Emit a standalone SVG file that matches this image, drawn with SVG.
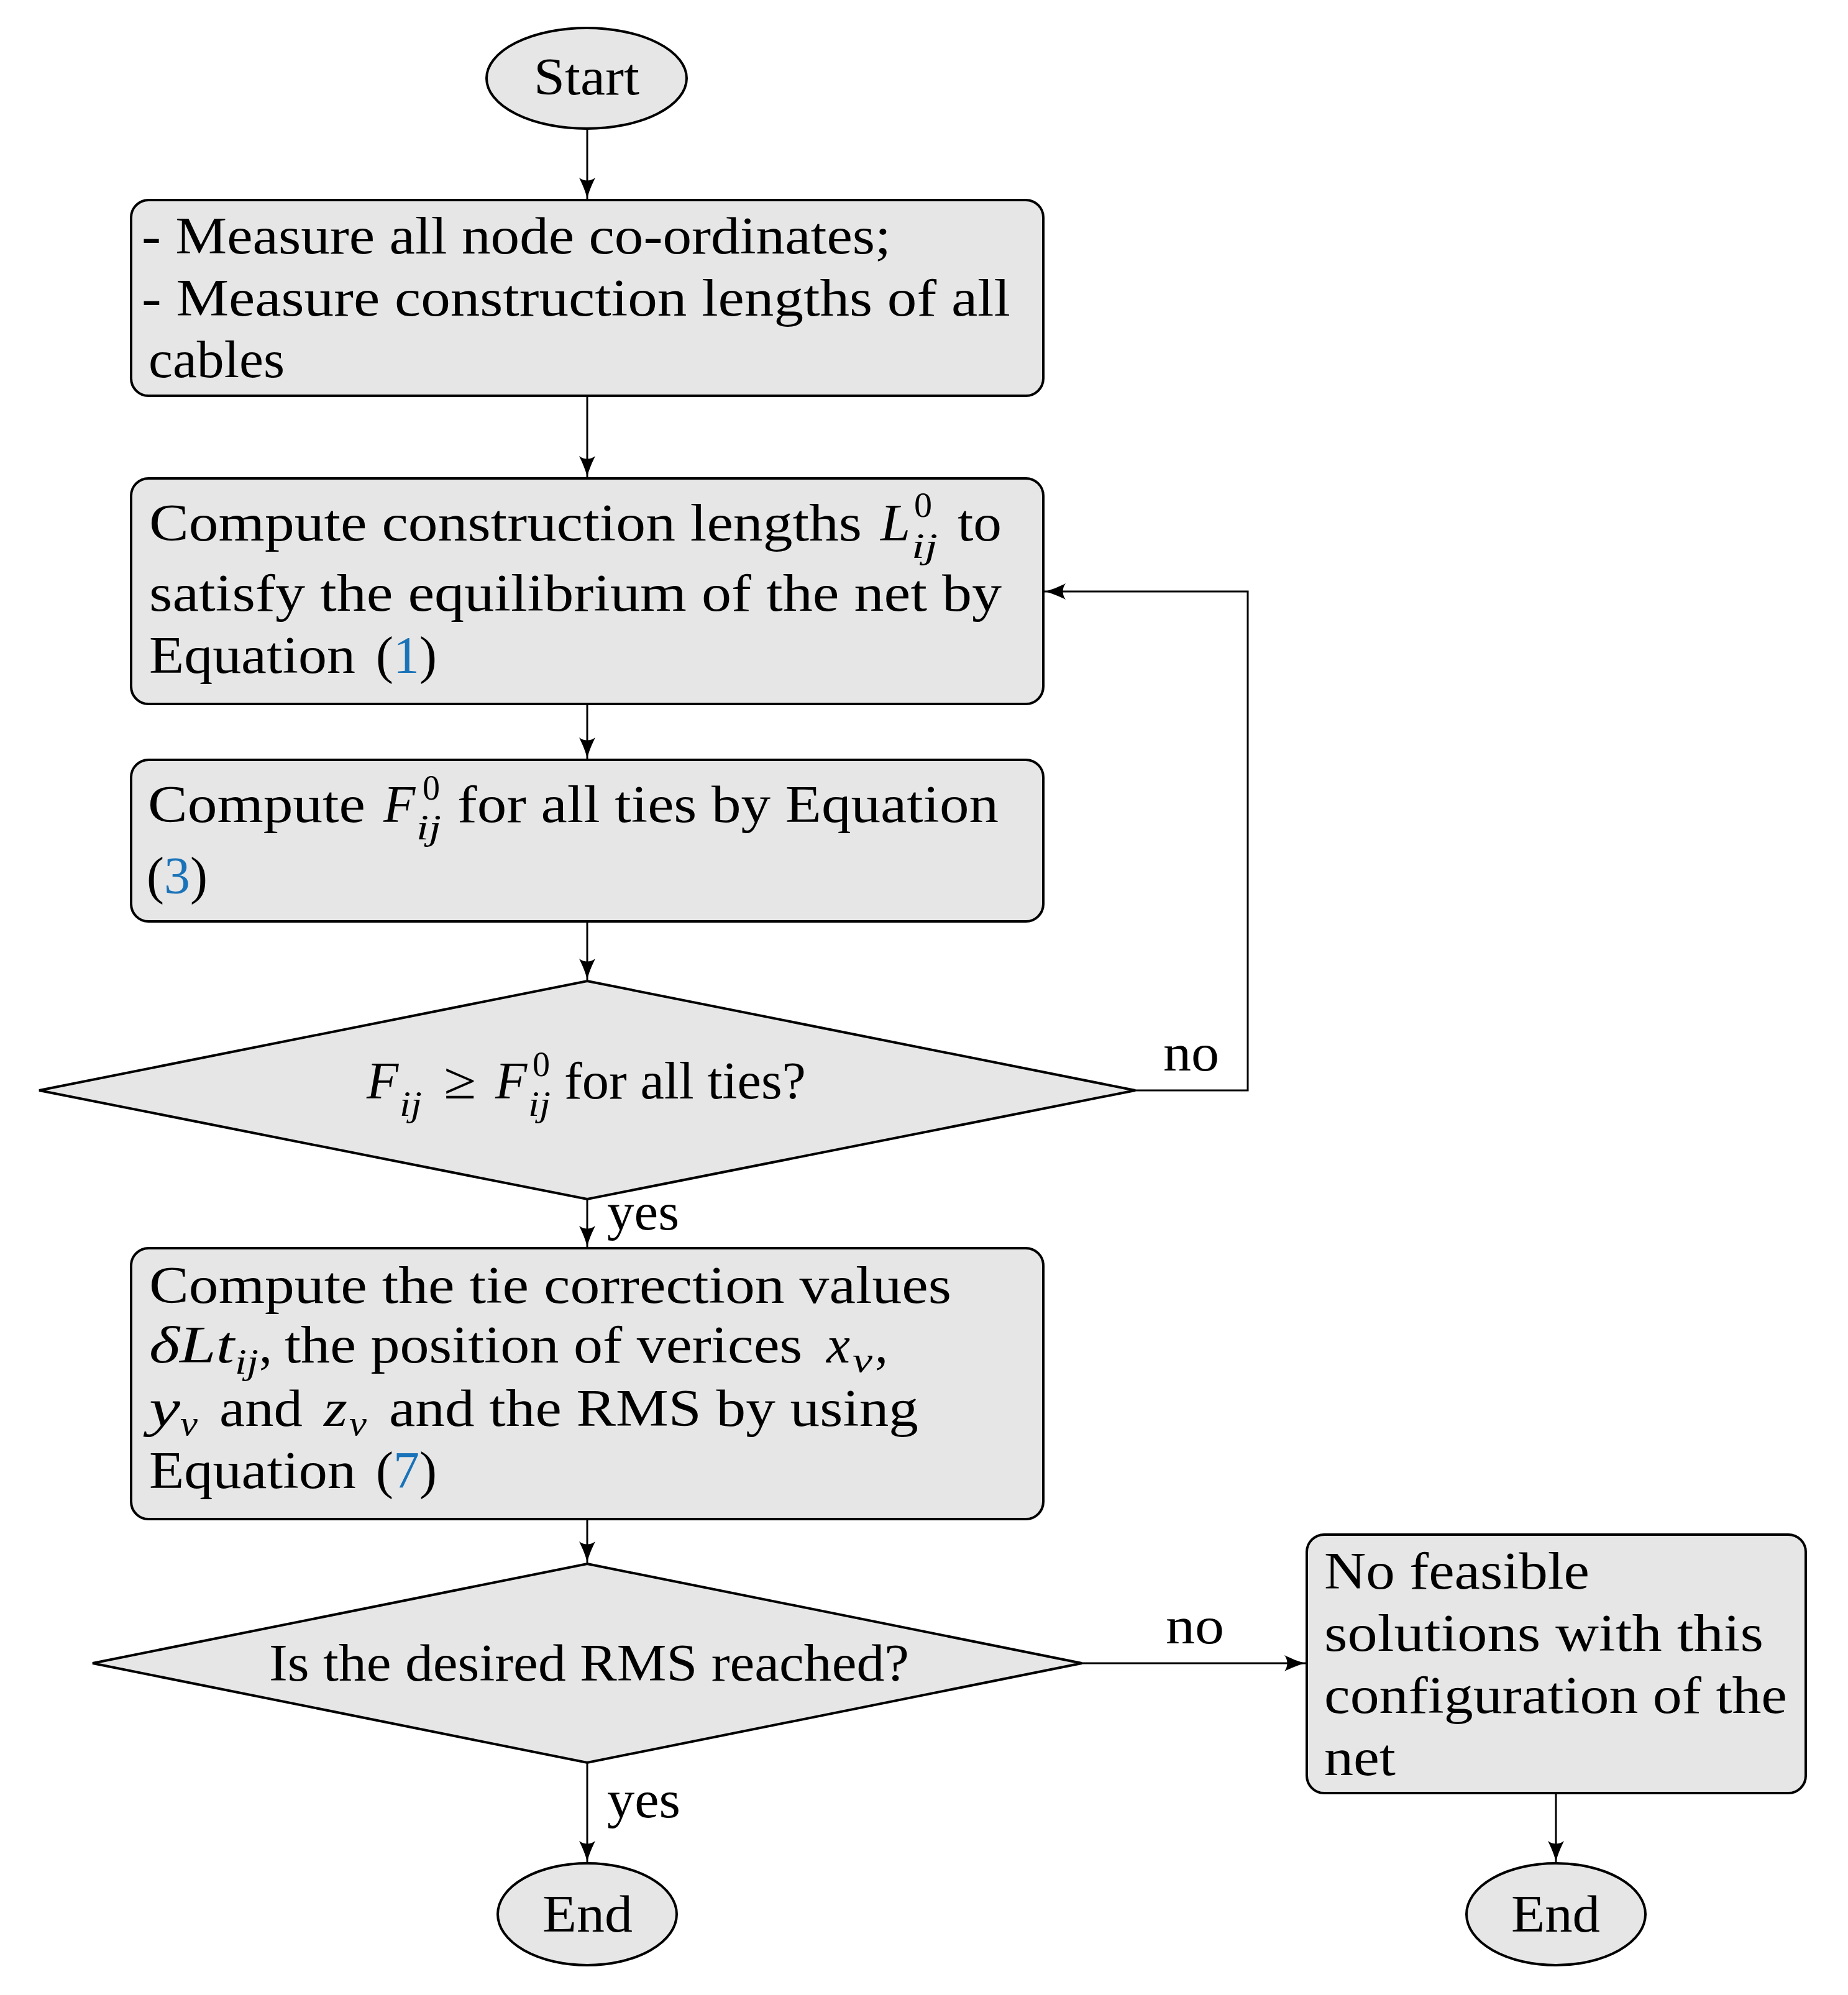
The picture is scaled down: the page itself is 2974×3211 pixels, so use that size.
<svg xmlns="http://www.w3.org/2000/svg" width="2974" height="3211" viewBox="0 0 2974 3211">
<style>
.node{fill:#e6e6e6;stroke:#000;stroke-width:4}
.conn{fill:none;stroke:#000;stroke-width:3}
text{font-family:"Liberation Serif","Times New Roman",serif;font-size:84px;fill:#000}
.it{font-style:italic}
.sm{font-size:56px}
.ref{fill:#1a73b8}
</style>
<defs>
<marker id="arr" viewBox="-36 -14 38 28" markerWidth="38" markerHeight="28" refX="0" refY="0" orient="auto" markerUnits="userSpaceOnUse">
<path d="M0,0 C-10,-2 -24,-8 -34,-13 C-28,-5 -28,5 -34,13 C-24,8 -10,2 0,0 Z" fill="#000"/>
</marker>
</defs>
<rect width="2974" height="3211" fill="#fff"/>
<g id="connectors">
<path class="conn" d="M945,207 L945,320" marker-end="url(#arr)"/>
<path class="conn" d="M945,637 L945,768" marker-end="url(#arr)"/>
<path class="conn" d="M945,1133 L945,1221" marker-end="url(#arr)"/>
<path class="conn" d="M945,1483 L945,1577" marker-end="url(#arr)"/>
<path class="conn" d="M945,1930 L945,2007" marker-end="url(#arr)"/>
<path class="conn" d="M945,2445 L945,2515" marker-end="url(#arr)"/>
<path class="conn" d="M945,2837 L945,2997" marker-end="url(#arr)"/>
<path class="conn" d="M1741,2677 L2101,2677" marker-end="url(#arr)"/>
<path class="conn" d="M2504,2886 L2504,2997" marker-end="url(#arr)"/>
<path class="conn" d="M1827,1755 L2008,1755 L2008,952 L1681,952" marker-end="url(#arr)"/>
<text x="1872" y="1723" textLength="90" lengthAdjust="spacingAndGlyphs">no</text>
<text x="977" y="1979" textLength="116" lengthAdjust="spacingAndGlyphs">yes</text>
<text x="1876" y="2645" textLength="94" lengthAdjust="spacingAndGlyphs">no</text>
<text x="977" y="2925" textLength="118" lengthAdjust="spacingAndGlyphs">yes</text>
</g>
<g id="start">
<ellipse class="node" cx="944" cy="126" rx="161" ry="81"/>
<text x="859" y="152" textLength="170" lengthAdjust="spacingAndGlyphs">Start</text>
</g>
<g id="measure">
<rect class="node" x="211" y="322" width="1468" height="315" rx="28" ry="28"/>
<text x="228" y="408" textLength="1206" lengthAdjust="spacingAndGlyphs">- Measure all node co-ordinates;</text>
<text x="228" y="508" textLength="1398" lengthAdjust="spacingAndGlyphs">- Measure construction lengths of all</text>
<text x="239" y="607" textLength="219" lengthAdjust="spacingAndGlyphs">cables</text>
</g>
<g id="compute-lengths">
<rect class="node" x="211" y="770" width="1468" height="363" rx="28" ry="28"/>
<text x="240" y="870"><tspan textLength="1147" lengthAdjust="spacingAndGlyphs">Compute construction lengths</tspan><tspan class="it" x="1417" y="870" textLength="48" lengthAdjust="spacingAndGlyphs">L</tspan><tspan class="sm" x="1471" y="832" textLength="29" lengthAdjust="spacingAndGlyphs">0</tspan><tspan class="sm it" x="1467" y="898" textLength="42" lengthAdjust="spacingAndGlyphs">ij</tspan><tspan x="1541" y="870" textLength="71" lengthAdjust="spacingAndGlyphs">to</tspan></text>
<text x="240" y="983" textLength="1372" lengthAdjust="spacingAndGlyphs">satisfy the equilibrium of the net by</text>
<text x="240" y="1083"><tspan textLength="332" lengthAdjust="spacingAndGlyphs">Equation</tspan><tspan x="605">(</tspan><tspan class="ref">1</tspan>)</text>
</g>
<g id="compute-forces">
<rect class="node" x="211" y="1223" width="1468" height="260" rx="28" ry="28"/>
<text x="238" y="1323"><tspan textLength="350" lengthAdjust="spacingAndGlyphs">Compute</tspan><tspan class="it" x="617" y="1323">F</tspan><tspan class="sm" x="680" y="1287" textLength="28" lengthAdjust="spacingAndGlyphs">0</tspan><tspan class="sm it" x="670" y="1351" textLength="40" lengthAdjust="spacingAndGlyphs">ij</tspan><tspan x="736" y="1323" textLength="871" lengthAdjust="spacingAndGlyphs">for all ties by Equation</tspan></text>
<text x="236" y="1438">(<tspan class="ref">3</tspan>)</text>
</g>
<g id="check-forces">
<polygon class="node" points="945,1579 1827,1755 945,1930 63,1755"/>
<text x="590" y="1768"><tspan class="it">F</tspan><tspan class="sm it" x="643" y="1796" textLength="36" lengthAdjust="spacingAndGlyphs">ij</tspan><tspan x="714" y="1768" textLength="52" lengthAdjust="spacingAndGlyphs">≥</tspan><tspan class="it" x="797" y="1768">F</tspan><tspan class="sm" x="857" y="1732" textLength="28" lengthAdjust="spacingAndGlyphs">0</tspan><tspan class="sm it" x="850" y="1796" textLength="36" lengthAdjust="spacingAndGlyphs">ij</tspan><tspan x="908" y="1768" textLength="389" lengthAdjust="spacingAndGlyphs">for all ties?</tspan></text>
</g>
<g id="compute-corrections">
<rect class="node" x="211" y="2009" width="1468" height="436" rx="28" ry="28"/>
<text x="240" y="2097" textLength="1291" lengthAdjust="spacingAndGlyphs">Compute the tie correction values</text>
<text x="240" y="2193"><tspan class="it" textLength="137" lengthAdjust="spacingAndGlyphs">δLt</tspan><tspan class="sm it" x="378" y="2211" textLength="38" lengthAdjust="spacingAndGlyphs">ij</tspan><tspan x="417" y="2193">,</tspan><tspan x="458" y="2193" textLength="833" lengthAdjust="spacingAndGlyphs">the position of verices</tspan><tspan class="it" x="1330" y="2193" textLength="38" lengthAdjust="spacingAndGlyphs">x</tspan><tspan class="sm it" x="1372" y="2208" textLength="32" lengthAdjust="spacingAndGlyphs">v</tspan><tspan x="1408" y="2193">,</tspan></text>
<text x="240" y="2295"><tspan class="it" textLength="50" lengthAdjust="spacingAndGlyphs">y</tspan><tspan class="sm it" x="290" y="2310" textLength="28" lengthAdjust="spacingAndGlyphs">v</tspan><tspan x="353" y="2295" textLength="134" lengthAdjust="spacingAndGlyphs">and</tspan><tspan class="it" x="521" y="2295" textLength="38" lengthAdjust="spacingAndGlyphs">z</tspan><tspan class="sm it" x="562" y="2310" textLength="28" lengthAdjust="spacingAndGlyphs">v</tspan><tspan x="626" y="2295" textLength="852" lengthAdjust="spacingAndGlyphs">and the RMS by using</tspan></text>
<text x="240" y="2395"><tspan textLength="333" lengthAdjust="spacingAndGlyphs">Equation</tspan><tspan x="605">(</tspan><tspan class="ref">7</tspan>)</text>
</g>
<g id="check-rms">
<polygon class="node" points="945,2517 1741,2677 945,2837 149,2677"/>
<text x="433" y="2705" textLength="1030" lengthAdjust="spacingAndGlyphs">Is the desired RMS reached?</text>
</g>
<g id="no-solution">
<rect class="node" x="2103" y="2470" width="803" height="416" rx="28" ry="28"/>
<text x="2131" y="2557" textLength="427" lengthAdjust="spacingAndGlyphs">No feasible</text>
<text x="2131" y="2657" textLength="707" lengthAdjust="spacingAndGlyphs">solutions with this</text>
<text x="2131" y="2757" textLength="745" lengthAdjust="spacingAndGlyphs">configuration of the</text>
<text x="2131" y="2857" textLength="115" lengthAdjust="spacingAndGlyphs">net</text>
</g>
<g id="end1">
<ellipse class="node" cx="945" cy="3081" rx="144" ry="82"/>
<text x="873" y="3109" textLength="145" lengthAdjust="spacingAndGlyphs">End</text>
</g>
<g id="end2">
<ellipse class="node" cx="2504" cy="3081" rx="144" ry="82"/>
<text x="2432" y="3109" textLength="143" lengthAdjust="spacingAndGlyphs">End</text>
</g>
</svg>
